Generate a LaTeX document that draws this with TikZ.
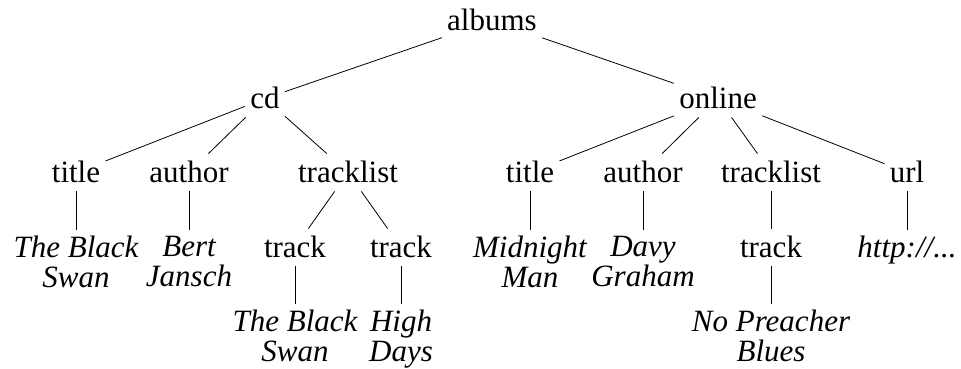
\documentclass[tikz,border=0pt]{standalone}
\usepackage{fontspec}
\setmainfont{Liberation Serif}
\newcommand\treefont{\fontsize{31}{30}\selectfont}

\begin{document}
\begin{tikzpicture}[x=1pt,y=-1pt,
    lbl/.style={anchor=base,inner xsep=5pt,inner ysep=6pt,text height=22pt,text depth=3pt,font=\treefont},
    leaf/.style={anchor=north,inner xsep=2pt,inner ysep=6pt,align=center,font=\treefont\itshape},
    every path/.style={line width=0.8pt}]
  \useasboundingbox (0,0) rectangle (961,368);
  % inner nodes
  \node[lbl] (albums) at (492,30) {albums};
  \node[lbl] (cd) at (265,108) {cd};
  \node[lbl] (online) at (718,108) {online};
  \node[lbl] (cdtitle) at (76,182) {title};
  \node[lbl] (cdauthor) at (189,182) {author};
  \node[lbl] (cdtracks) at (348,182) {tracklist};
  \node[lbl] (ontitle) at (530,182) {title};
  \node[lbl] (onauthor) at (643,182) {author};
  \node[lbl] (ontracks) at (771,182) {tracklist};
  \node[lbl] (onurl) at (907,182) {url};
  \node[lbl] (cdtrackA) at (295,257) {track};
  \node[lbl] (cdtrackB) at (401,257) {track};
  \node[lbl] (ontrack) at (771,257) {track};
  % values
  \node[leaf] (cdtitleval) at (76,230) {The Black\\Swan};
  \node[leaf] (cdauthorval) at (189,230) {Bert\\Jansch};
  \node[leaf] (ontitleval) at (530,230) {Midnight\\Man};
  \node[leaf] (onauthorval) at (643,230) {Davy\\Graham};
  \node[leaf] (onurlval) at (907,230) {http://...};
  \node[leaf] (cdtrackAval) at (295,304) {The Black\\Swan};
  \node[leaf] (cdtrackBval) at (401,304) {High\\Days};
  \node[leaf] (ontrackval) at (771,304) {No Preacher\\Blues};
  % edges
  \foreach \a/\b in {albums/cd, albums/online,
      cd/cdtitle, cd/cdauthor, cd/cdtracks,
      online/ontitle, online/onauthor, online/ontracks, online/onurl,
      cdtracks/cdtrackA, cdtracks/cdtrackB, ontracks/ontrack,
      cdtitle/cdtitleval, cdauthor/cdauthorval, ontitle/ontitleval,
      onauthor/onauthorval, onurl/onurlval,
      cdtrackA/cdtrackAval, cdtrackB/cdtrackBval, ontrack/ontrackval}
    \draw (\a) -- (\b);
\end{tikzpicture}
\end{document}
